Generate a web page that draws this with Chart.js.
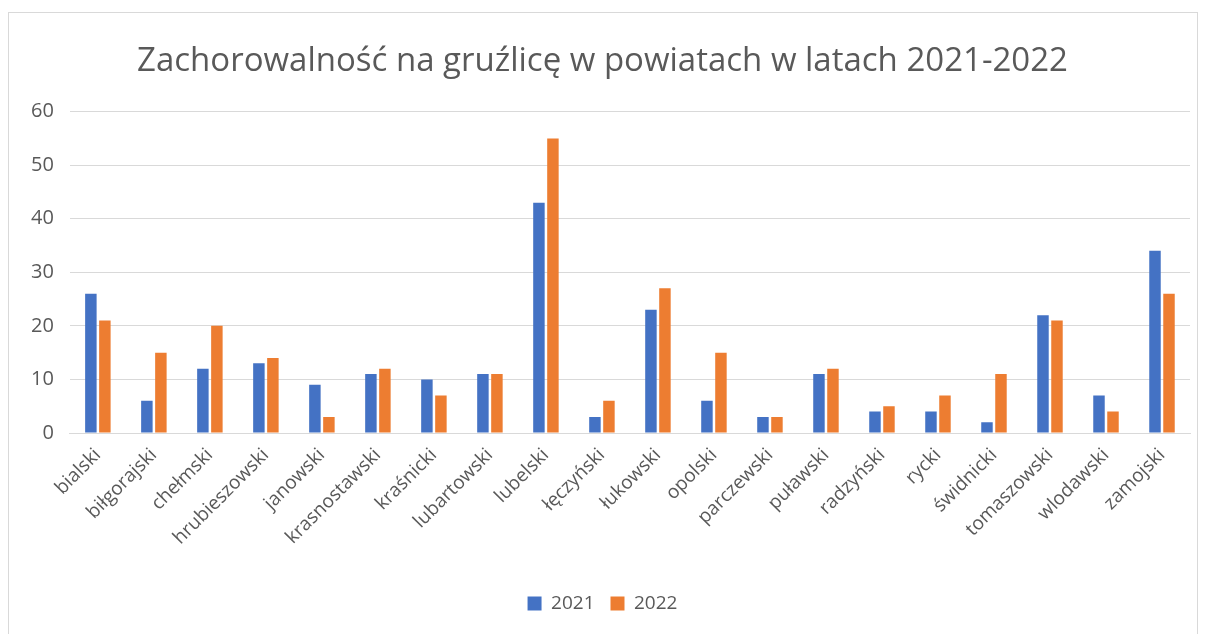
<!DOCTYPE html>
<html lang="pl">
<head>
    <meta charset="UTF-8">
    <title>Zachorowalność na gruźlicę</title>
    <style>
        html, body { margin: 0; padding: 0; background: #fff; }
        .frame {
            position: absolute; left: 8px; top: 12px; width: 1190px; height: 640px;
            border: 1px solid #d9d9d9; box-sizing: border-box;
        }
        .wrap { position: absolute; left: 0; top: 0; width: 1208px; height: 634px; }
    </style>
    <script src="https://cdn.jsdelivr.net/npm/chart.js"></script>
</head>
<body>
    <div class="frame"></div>
    <div class="wrap"><canvas id="chart"></canvas></div>

    <script>
        const powiaty = ['bialski', 'biłgorajski', 'chełmski', 'hrubieszowski', 'janowski',
            'krasnostawski', 'kraśnicki', 'lubartowski', 'lubelski', 'łęczyński', 'łukowski',
            'opolski', 'parczewski', 'puławski', 'radzyński', 'rycki', 'świdnicki',
            'tomaszowski', 'wlodawski', 'zamojski'];
        const values2021 = [26, 6, 12, 13, 9, 11, 10, 11, 43, 3, 23, 6, 3, 11, 4, 4, 2, 22, 7, 34];
        const values2022 = [21, 15, 20, 14, 3, 12, 7, 11, 55, 6, 27, 15, 3, 12, 5, 7, 11, 21, 4, 26];
        const yTicks = [0, 10, 20, 30, 40, 50, 60];

        const textColor = '#595959';
        const fontFamily = "'Open Sans', 'Liberation Sans', sans-serif";

        new Chart(document.getElementById('chart'), {
            type: 'bar',
            data: {
                labels: powiaty,
                datasets: [
                    { label: '2021', data: values2021, backgroundColor: '#4472c4' },
                    { label: '2022', data: values2022, backgroundColor: '#ed7d31' }
                ]
            },
            options: {
                responsive: true,
                maintainAspectRatio: false,
                animation: false,
                categoryPercentage: 0.5,
                barPercentage: 0.82,
                layout: { padding: { left: 15, right: 18, top: 42, bottom: 11 } },
                plugins: {
                    title: {
                        display: true,
                        text: 'Zachorowalność na gruźlicę w powiatach w latach 2021-2022',
                        color: textColor,
                        font: { family: fontFamily, size: 33, weight: 'normal' },
                        padding: { top: 0, bottom: 30 }
                    },
                    legend: {
                        position: 'bottom',
                        labels: {
                            color: textColor,
                            font: { family: fontFamily, size: 19 },
                            boxWidth: 14, boxHeight: 14, padding: 16
                        }
                    },
                    tooltip: { enabled: false }
                },
                scales: {
                    x: {
                        grid: { display: false },
                        border: { color: '#d9d9d9', width: 1 },
                        afterFit: scale => { scale.height = 145; },
                        ticks: {
                            color: textColor,
                            font: { family: fontFamily, size: 19 },
                            minRotation: 45, maxRotation: 45, autoSkip: false
                        }
                    },
                    y: {
                        min: 0, max: 60,
                        afterBuildTicks: axis => { axis.ticks = yTicks.map(v => ({ value: v })); },
                        grid: { color: '#d9d9d9', drawTicks: false },
                        border: { display: false },
                        ticks: {
                            color: textColor,
                            font: { family: fontFamily, size: 20 },
                            padding: 16
                        }
                    }
                }
            }
        });
    </script>
</body>
</html>
